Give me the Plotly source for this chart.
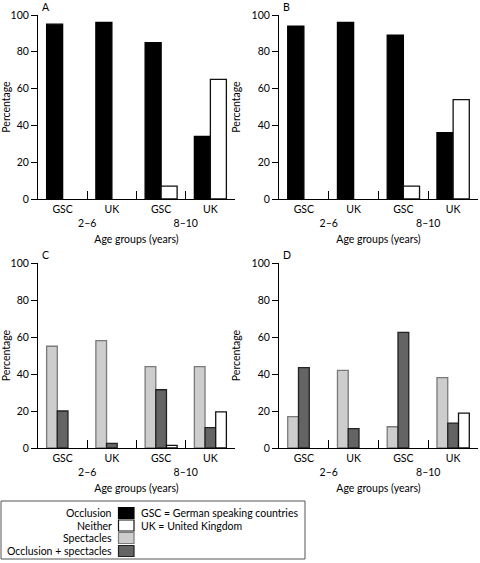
import plotly.graph_objects as go

# ---- data ----
age_groups = ["2–6", "2–6", "8–10", "8–10"]
regions = ["GSC", "UK", "GSC", "UK"]
series_names = ["Occlusion", "Neither", "Spectacles", "Occlusion + spectacles"]
legend_notes = ["GSC = German speaking countries", "UK = United Kingdom"]
panel_letters = ["A", "B", "C", "D"]
y_ticks = [0, 20, 40, 60, 80, 100]

a_occlusion = [95, 96, 85, 34]
a_neither = [0, 0, 7, 65]
b_occlusion = [94, 96, 89, 36]
b_neither = [0, 0, 7, 54]
c_spectacles = [55, 58, 44, 44]
c_occ_spec = [20, 2.5, 31.5, 11]
c_neither = [0, 0, 1.4, 19.5]
d_spectacles = [17, 42, 11.5, 38]
d_occ_spec = [43.5, 10.5, 62.5, 13.5]
d_neither = [0, 0, 0, 18.8]

# ---- styles ----
W, H = 480, 563
FONT = "Lato"
FS = 10.5
fills = {"Occlusion": "#000000", "Neither": "#ffffff",
         "Spectacles": "#cdcdcd", "Occlusion + spectacles": "#646464"}
lines = {"Occlusion": "#000000", "Neither": "#111111",
         "Spectacles": "#7a7a7a", "Occlusion + spectacles": "#222222"}

def fx(p):
    return p / W

def fy(p):
    return 1 - p / H

panels = [
    (panel_letters[0], (38, 235), (15, 199), [("Occlusion", a_occlusion), ("Neither", a_neither)]),
    (panel_letters[1], (279, 478), (15, 199), [("Occlusion", b_occlusion), ("Neither", b_neither)]),
    (panel_letters[2], (38, 235), (263, 448), [("Spectacles", c_spectacles), ("Occlusion + spectacles", c_occ_spec), ("Neither", c_neither)]),
    (panel_letters[3], (279, 478), (263, 448), [("Spectacles", d_spectacles), ("Occlusion + spectacles", d_occ_spec), ("Neither", d_neither)]),
]

fig = go.Figure()
annotations = []
shapes = []
tfont = dict(family=FONT, size=FS, color="black")

for i, (letter, (x0, x1), (y0, y1), series) in enumerate(panels, start=1):
    xa = "x" if i == 1 else f"x{i}"
    ya = "y" if i == 1 else f"y{i}"
    for name, vals in series:
        fig.add_trace(go.Bar(
            x=[age_groups, regions], y=vals, name=name,
            marker=dict(color=fills[name],
                        line=dict(color=lines[name], width=[1.3 if v else 0 for v in vals])),
            xaxis=xa, yaxis=ya, showlegend=False, hoverinfo="skip",
        ))
    fig.layout[f"xaxis{'' if i == 1 else i}"] = dict(
        type="multicategory", domain=[fx(x0), fx(x1)], anchor=ya, automargin=False,
        showline=True, linecolor="black", linewidth=1,
        ticks="inside", ticklen=8, tickcolor="black", tickwidth=1,
        showdividers=False, showgrid=False, zeroline=False,
        tickfont=tfont,
        title=dict(text="Age groups (years)", font=tfont, standoff=8),
    )
    fig.layout[f"yaxis{'' if i == 1 else i}"] = dict(
        domain=[fy(y1), fy(y0)], anchor=xa, range=[0, 100], automargin=False,
        tickvals=y_ticks, showline=True, linecolor="black", linewidth=1,
        ticks="outside", ticklen=6, tickcolor="black", showgrid=False, zeroline=False,
        tickfont=tfont,
        title=dict(text="Percentage", font=tfont, standoff=8),
    )
    annotations.append(dict(text=letter, xref="paper", yref="paper", x=fx(x0 + 2), y=fy(y0 - 8),
                            xanchor="left", yanchor="middle", showarrow=False, font=tfont))

# ---- custom legend box ----
shapes.append(dict(type="rect", xref="paper", yref="paper",
                   x0=fx(1), x1=fx(305), y0=fy(559), y1=fy(501),
                   line=dict(color="#555555", width=1), fillcolor="white"))
row_y = [513, 525.5, 538, 551]
for name, ry in zip(series_names, row_y):
    annotations.append(dict(text=name, xref="paper", yref="paper", x=fx(114), y=fy(ry),
                            xanchor="right", yanchor="middle", showarrow=False, font=tfont))
    shapes.append(dict(type="rect", xref="paper", yref="paper",
                       x0=fx(118.5), x1=fx(134), y0=fy(ry + 5.5), y1=fy(ry - 5.5),
                       fillcolor=fills[name], line=dict(color=lines[name], width=1.2)))
for note, ry in zip(legend_notes, row_y):
    annotations.append(dict(text=note, xref="paper", yref="paper", x=fx(139), y=fy(ry),
                            xanchor="left", yanchor="middle", showarrow=False, font=tfont))

fig.update_layout(
    width=W, height=H, margin=dict(l=0, r=0, t=0, b=0, autoexpand=False),
    paper_bgcolor="white", plot_bgcolor="white",
    barmode="group", bargap=0.35, bargroupgap=0,
    annotations=annotations, shapes=shapes,
    font=tfont,
)

fig.write_html("out.html", config={"displayModeBar": False},
               post_script="document.body.style.margin='0';document.body.style.overflow='hidden';")
